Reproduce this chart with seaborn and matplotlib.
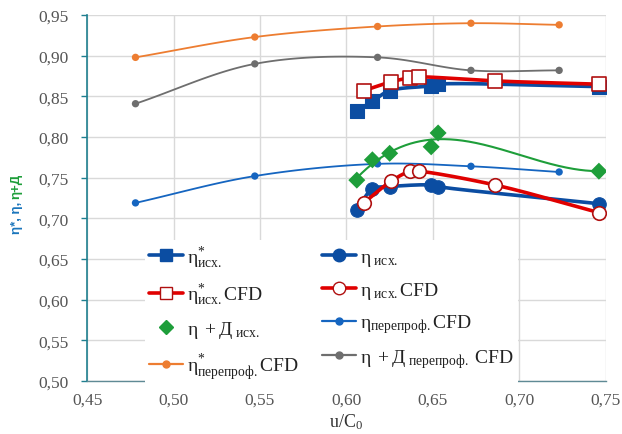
import numpy as np
import pandas as pd
import matplotlib
matplotlib.use("Agg")
import matplotlib.pyplot as plt
from matplotlib.lines import Line2D
from matplotlib.ticker import FuncFormatter, MultipleLocator
import seaborn as sns

# ---------------- data ----------------
x_isx = [0.606, 0.615, 0.625, 0.649, 0.653, 0.746]
eta_star_isx = [0.832, 0.844, 0.857, 0.863, 0.865, 0.862]
eta_isx = [0.710, 0.736, 0.739, 0.741, 0.739, 0.718]
eta_d_isx = [0.747, 0.772, 0.780, 0.788, 0.805, 0.758]

x_cfd = [0.610, 0.626, 0.637, 0.642, 0.686, 0.746]
eta_star_isx_cfd = [0.857, 0.868, 0.873, 0.874, 0.869, 0.865]
eta_isx_cfd = [0.719, 0.746, 0.758, 0.758, 0.741, 0.707]

x_pp = [0.478, 0.547, 0.618, 0.672, 0.723]
eta_pp_cfd = [0.719, 0.752, 0.767, 0.764, 0.757]
eta_star_pp_cfd = [0.898, 0.923, 0.936, 0.940, 0.938]
eta_d_pp_cfd = [0.841, 0.890, 0.898, 0.882, 0.882]

labels = [
    r'$\mathrm{η}^{*}_{\mathrm{исх.}}$',
    r'$\mathrm{η}_{\ \mathrm{исх.}}$',
    r'$\mathrm{η}^{*}_{\mathrm{исх.}}\mathrm{CFD}$',
    r'$\mathrm{η}_{\ \mathrm{исх.}}\mathrm{CFD}$',
    r'$\mathrm{η\ +Д}_{\ \mathrm{исх.}}$',
    r'$\mathrm{η}_{\mathrm{перепроф.}}\mathrm{CFD}$',
    r'$\mathrm{η}^{*}_{\mathrm{перепроф.}}\mathrm{CFD}$',
    r'$\mathrm{η\ +Д}_{\ \mathrm{перепроф.}}\ \mathrm{CFD}$',
]

# ---------------- style ----------------
sns.set_theme(style="white")
plt.rcParams['font.family'] = ['Liberation Serif', 'DejaVu Serif']
plt.rcParams['mathtext.fontset'] = 'custom'
plt.rcParams['mathtext.rm'] = 'Liberation Serif'
plt.rcParams['mathtext.it'] = 'Liberation Serif:italic'
plt.rcParams['mathtext.bf'] = 'Liberation Serif:bold'

C_BLUE = '#0B4DA2'
C_RED = '#E00000'
C_GREEN = '#1E9E3A'
C_THIN_BLUE = '#1565C0'
C_ORANGE = '#ED7D31'
C_GRAY = '#6E6E6E'

SX, SY = 1720.0, 814.0


def smooth(x, y, n=30):
    P = np.column_stack([np.asarray(x, float) * SX, np.asarray(y, float) * SY])
    P = np.vstack([2 * P[0] - P[1], P, 2 * P[-1] - P[-2]])
    out = []
    for i in range(1, len(P) - 2):
        p0, p1, p2, p3 = P[i - 1:i + 3]
        t0 = 0.0
        t1 = t0 + np.linalg.norm(p1 - p0) ** 0.5
        t2 = t1 + np.linalg.norm(p2 - p1) ** 0.5
        t3 = t2 + np.linalg.norm(p3 - p2) ** 0.5
        t = np.linspace(t1, t2, n)[:, None]
        A1 = (t1 - t) / (t1 - t0) * p0 + (t - t0) / (t1 - t0) * p1
        A2 = (t2 - t) / (t2 - t1) * p1 + (t - t1) / (t2 - t1) * p2
        A3 = (t3 - t) / (t3 - t2) * p2 + (t - t2) / (t3 - t2) * p3
        B1 = (t2 - t) / (t2 - t0) * A1 + (t - t0) / (t2 - t0) * A2
        B2 = (t3 - t) / (t3 - t1) * A2 + (t - t1) / (t3 - t1) * A3
        C = (t2 - t) / (t2 - t1) * B1 + (t - t1) / (t2 - t1) * B2
        out.append(C)
    C = np.vstack(out)
    return C[:, 0] / SX, C[:, 1] / SY


fig = plt.figure(figsize=(6.22, 4.35), dpi=100)
ax = fig.add_axes([0.140, 0.122, 0.834, 0.841])

# thin lines (перепроф.)
for yv, col in [(eta_star_pp_cfd, C_ORANGE), (eta_d_pp_cfd, C_GRAY), (eta_pp_cfd, C_THIN_BLUE)]:
    sx, sy = smooth(x_pp, yv)
    ax.plot(sx, sy, color=col, lw=1.3, zorder=3)
    sns.scatterplot(x=x_pp, y=yv, ax=ax, color=col, s=28, edgecolor='none', zorder=4, legend=False)

# green trendline (cubic fit of measured points)
coef = np.polyfit(x_isx, eta_d_isx, 3)
gx = np.linspace(min(x_isx), max(x_isx), 200)
ax.plot(gx, np.polyval(coef, gx), color=C_GREEN, lw=1.5, zorder=3)
sns.scatterplot(x=x_isx, y=eta_d_isx, ax=ax, color=C_GREEN, marker='D', s=75,
                edgecolor='none', zorder=5, legend=False)

# thick lines
sx, sy = smooth(x_isx, eta_star_isx)
ax.plot(sx, sy, color=C_BLUE, lw=2.6, zorder=5)
sns.scatterplot(x=x_isx, y=eta_star_isx, ax=ax, color=C_BLUE, marker='s', s=95,
                edgecolor=C_BLUE, zorder=6, legend=False)
sx, sy = smooth(x_isx, eta_isx)
ax.plot(sx, sy, color=C_BLUE, lw=2.6, zorder=5)
sns.scatterplot(x=x_isx, y=eta_isx, ax=ax, color=C_BLUE, marker='o', s=95,
                edgecolor=C_BLUE, zorder=6, legend=False)

sx, sy = smooth(x_cfd, eta_star_isx_cfd)
ax.plot(sx, sy, color=C_RED, lw=2.6, zorder=7)
sns.scatterplot(x=x_cfd, y=eta_star_isx_cfd, ax=ax, color='white', marker='s', s=95,
                edgecolor='#B01010', linewidth=1.2, zorder=8, legend=False)
sx, sy = smooth(x_cfd, eta_isx_cfd)
ax.plot(sx, sy, color=C_RED, lw=2.6, zorder=7)
sns.scatterplot(x=x_cfd, y=eta_isx_cfd, ax=ax, color='white', marker='o', s=95,
                edgecolor='#B01010', linewidth=1.2, zorder=8, legend=False)

# axes
ax.set_xlim(0.45, 0.75)
ax.set_ylim(0.50, 0.95)
ax.xaxis.set_major_locator(MultipleLocator(0.05))
ax.yaxis.set_major_locator(MultipleLocator(0.05))
fmt = FuncFormatter(lambda v, p: f'{v:.2f}'.replace('.', ','))
ax.xaxis.set_major_formatter(fmt)
ax.yaxis.set_major_formatter(fmt)
ax.grid(True, color='#D9D9D9', lw=1.0, zorder=0)
ax.set_axisbelow(True)
for s in ['top', 'right']:
    ax.spines[s].set_visible(False)
ax.spines['left'].set_color('#1F7F8F')
ax.spines['left'].set_linewidth(1.2)
ax.spines['bottom'].set_color('#5F8A95')
ax.spines['bottom'].set_linewidth(1.0)
ax.tick_params(axis='y', which='major', length=4, width=1, color='#1F7F8F',
               labelsize=12.5, labelcolor='#555555', pad=9, left=True)
ax.tick_params(axis='x', which='major', length=0, labelsize=12.5, labelcolor='#555555', pad=8)
ax.set_xlabel(r'u/C$_0$', fontsize=13, color='#333333', labelpad=2)
ax.set_ylabel('')

fig.text(0.027, 0.499, 'η*, η,', rotation=90, ha='center', va='center',
         color='#1A75BC', fontsize=9.5, fontweight='bold', family='Liberation Sans')
fig.text(0.027, 0.572, 'η+Д', rotation=90, ha='center', va='center',
         color=C_GREEN, fontsize=9.5, fontweight='bold', family='Liberation Sans')

# legend
handles = [
    Line2D([], [], color=C_BLUE, lw=2.6, marker='s', ms=9, mfc=C_BLUE, mec=C_BLUE),
    Line2D([], [], color=C_BLUE, lw=2.6, marker='o', ms=9, mfc=C_BLUE, mec=C_BLUE),
    Line2D([], [], color=C_RED, lw=2.6, marker='s', ms=9, mfc='white', mec='#B01010'),
    Line2D([], [], color=C_RED, lw=2.6, marker='o', ms=9, mfc='white', mec='#B01010'),
    Line2D([], [], color=C_GREEN, lw=0, marker='D', ms=7, mfc=C_GREEN, mec=C_GREEN),
    Line2D([], [], color=C_THIN_BLUE, lw=1.6, marker='o', ms=5, mfc=C_THIN_BLUE, mec=C_THIN_BLUE),
    Line2D([], [], color=C_ORANGE, lw=1.6, marker='o', ms=5, mfc=C_ORANGE, mec=C_ORANGE),
    Line2D([], [], color=C_GRAY, lw=1.6, marker='o', ms=5, mfc=C_GRAY, mec=C_GRAY),
]
order = [0, 2, 4, 6, 1, 3, 5, 7]
leg = ax.legend([handles[i] for i in order], [labels[i] for i in order], ncol=2,
                loc='upper left', bbox_to_anchor=(0.093, 0.412),
                frameon=True, framealpha=1.0, facecolor='white', edgecolor='none',
                fontsize=14, handlelength=1.75, handletextpad=0.2, columnspacing=1.2,
                labelspacing=0.6, borderpad=0.2, labelcolor='#222222')
leg.set_zorder(10)

fig.savefig('out.png', dpi=100)
